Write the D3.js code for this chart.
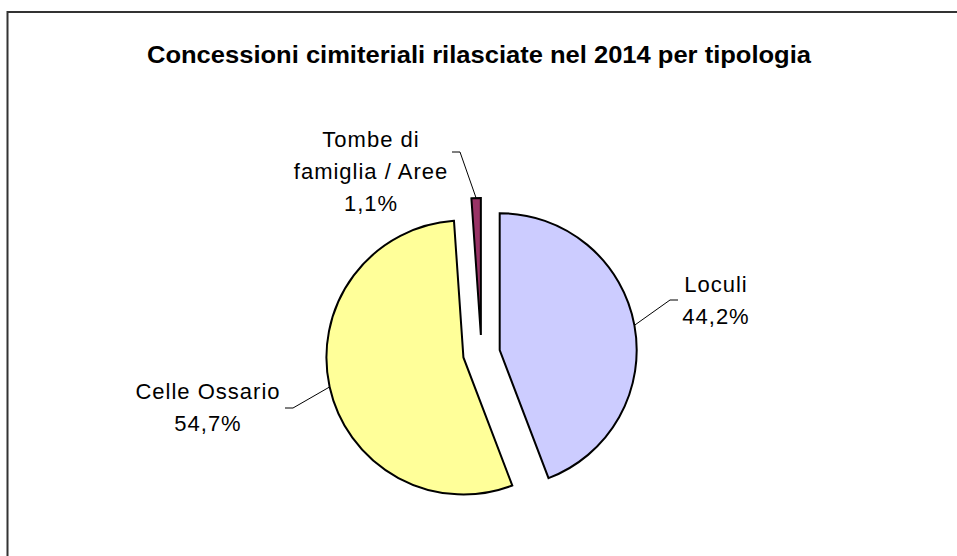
<!DOCTYPE html>
<html>
<head>
<meta charset="utf-8">
<script src="https://cdn.jsdelivr.net/npm/d3@7"></script>
<style>
  body { margin: 0; background: #fff; }
  svg text { font-family: "Liberation Sans", Arial, sans-serif; fill: #000; }
</style>
</head>
<body>
<svg id="chart" width="957" height="556"></svg>
<script>
// Data
const categories = ["Loculi", "Celle Ossario", "Tombe di famiglia / Aree"];
const values = [44.2, 54.7, 1.1];
const labelLines = [["Loculi", "44,2%"], ["Celle Ossario", "54,7%"], ["Tombe di", "famiglia / Aree", "1,1%"]];
const colors = ["#CCCCFF", "#FFFF99", "#993366"];

// Layout
const W = 957, H = 556;
const cx = 481.5, cy = 353.5;
const radius = 137;
const explode = 18.5;

// label placement: text centre x, first baseline y, leader elbow and stub end
const labelLayout = [
  { x: 716, y: 292, elbow: [670, 300], stub: [678, 300] },
  { x: 208, y: 399, elbow: [293, 408], stub: [285, 408] },
  { x: 371, y: 147, elbow: [460, 152], stub: [452, 152] }
];

const svg = d3.select("#chart");

// frame
svg.append("rect")
  .attr("x", 7.5).attr("y", 12)
  .attr("width", W + 20).attr("height", H + 20)
  .attr("fill", "none")
  .attr("stroke", "#333")
  .attr("stroke-width", 2);

// title
svg.append("text")
  .attr("x", 479).attr("y", 63)
  .attr("text-anchor", "middle")
  .attr("font-size", 23)
  .attr("font-weight", "bold")
  .attr("textLength", 664)
  .attr("lengthAdjust", "spacingAndGlyphs")
  .text("Concessioni cimiteriali rilasciate nel 2014 per tipologia");

const pie = d3.pie().sort(null).value(d => d)
  .startAngle(0).endAngle(2 * Math.PI);
const arcs = pie(values);
const arc = d3.arc().innerRadius(0).outerRadius(radius);

const g = svg.append("g").attr("transform", `translate(${cx},${cy})`);

// explode every slice along its middle angle
arcs.forEach(a => {
  a.mid = (a.startAngle + a.endAngle) / 2;
  a.dx = Math.sin(a.mid) * explode;
  a.dy = -Math.cos(a.mid) * explode;
});

g.selectAll("path.slice")
  .data(arcs)
  .join("path")
    .attr("class", "slice")
    .attr("transform", d => `translate(${d.dx},${d.dy})`)
    .attr("d", arc)
    .attr("fill", (d, i) => colors[i])
    .attr("stroke", "#000")
    .attr("stroke-width", 2)
    .attr("stroke-linejoin", "miter");

// leader lines
arcs.forEach((a, i) => {
  const lay = labelLayout[i];
  const px = cx + a.dx + Math.sin(a.mid) * radius;
  const py = cy + a.dy - Math.cos(a.mid) * radius;
  svg.append("polyline")
    .attr("points", [[px, py], lay.elbow, lay.stub].map(p => p.join(",")).join(" "))
    .attr("fill", "none")
    .attr("stroke", "#000")
    .attr("stroke-width", 1);
});

// labels
labelLines.forEach((lines, i) => {
  const lay = labelLayout[i];
  const t = svg.append("text")
    .attr("text-anchor", "middle")
    .attr("font-size", 22)
    .attr("letter-spacing", 1);
  lines.forEach((s, k) => {
    t.append("tspan")
      .attr("x", lay.x)
      .attr("y", lay.y + k * 32)
      .text(s);
  });
});
</script>
</body>
</html>
